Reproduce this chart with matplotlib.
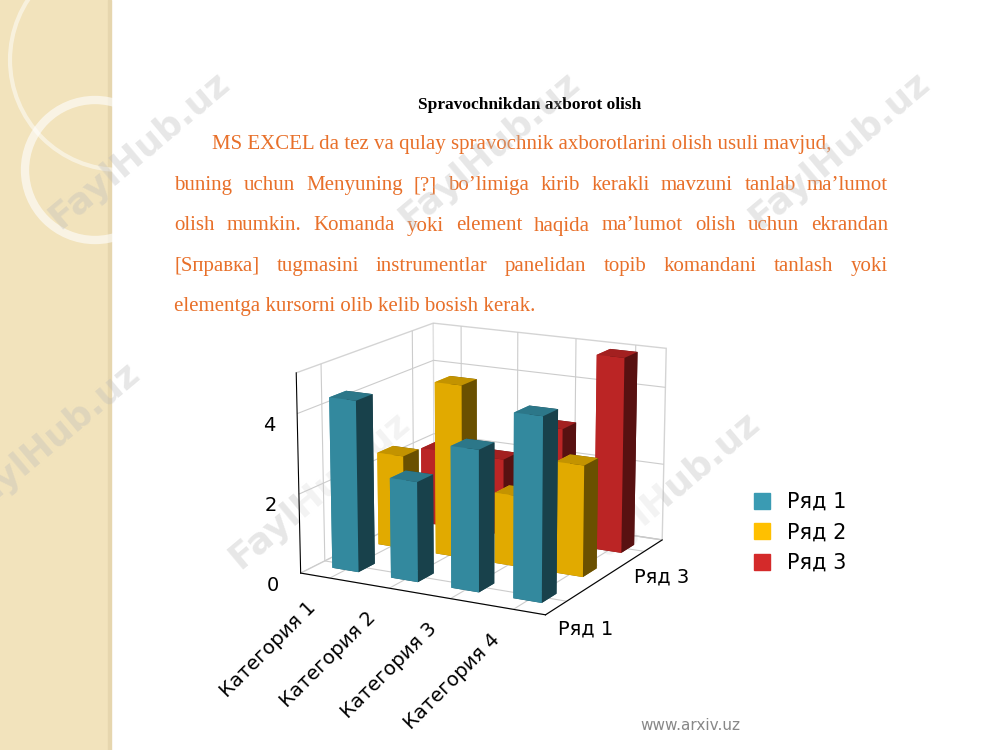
import matplotlib.pyplot as plt
from matplotlib.patches import Rectangle, Circle
import numpy as np

categories = ["Категория 1", "Категория 2", "Категория 3", "Категория 4"]
series_names = ["Ряд 1", "Ряд 2", "Ряд 3"]
ryad1 = [4.3, 2.5, 3.5, 4.5]
ryad2 = [2.4, 4.4, 1.8, 2.8]
ryad3 = [2.0, 2.0, 3.0, 5.0]
colors = ["#3A9BB3", "#FFC000", "#D42A2A"]

lines = [
    "MS EXCEL da tez va qulay spravochnik axborotlarini olish usuli mavjud,",
    "buning uchun Menyuning [?] bo’limiga kirib kerakli mavzuni tanlab ma’lumot",
    "olish mumkin. Komanda yoki element haqida ma’lumot olish uchun ekrandan",
    "[Sправка] tugmasini instrumentlar panelidan topib komandani tanlash yoki",
    "elementga kursorni olib kelib bosish kerak.",
]

fig = plt.figure(figsize=(10, 7.5), dpi=100)
bg = fig.add_axes([0, 0, 1, 1])
bg.set_xlim(0, 1000)
bg.set_ylim(750, 0)
bg.axis("off")
bg.add_patch(Rectangle((0, 0), 110, 750, color="#F2E3BC"))
bg.add_patch(Rectangle((108, 0), 3, 750, color="#E6D6AE"))
bg.add_patch(Circle((95, 170), 70, fill=False, lw=6, ec="#FFFFFF", alpha=0.6))
bg.add_patch(Circle((120, 60), 110, fill=False, lw=3, ec="#FFFFFF", alpha=0.5))

bg.text(530, 105, "Spravochnikdan axborot olish", ha="center", va="center",
        fontsize=12.5, fontweight="bold", family="Liberation Serif")
orange = "#E8702A"
fs = 15
renderer = fig.canvas.get_renderer()
for i, ln in enumerate(lines):
    y = 145 + i * 40.5
    if i == 0:
        bg.text(212, y, ln, ha="left", va="center", fontsize=fs, color=orange, family="Liberation Serif")
    elif i < len(lines) - 1:
        words = ln.split(" ")
        x0, x1 = 174, 888
        ts = [bg.text(0, y, w, ha="left", va="center", fontsize=fs, color=orange,
                      family="Liberation Serif") for w in words]
        ws = [t.get_window_extent(renderer).width for t in ts]
        gap = ((x1 - x0) - sum(ws)) / (len(words) - 1)
        x = x0
        for t, w in zip(ts, ws):
            t.set_x(x)
            x += w + gap
    else:
        bg.text(174, y, ln, ha="left", va="center", fontsize=fs, color=orange, family="Liberation Serif")

for (x, y) in [(140, 150), (490, 150), (840, 150), (50, 440), (320, 490), (670, 490)]:
    bg.text(x, y, "FaylHub.uz", rotation=40, fontsize=26, fontweight="bold",
            color="#BBBBBB", alpha=0.35, ha="center", va="center")
bg.text(690, 725, "www.arxiv.uz", ha="center", va="center", fontsize=11, color="#888888")

ax = fig.add_axes([0.2, 0.1, 0.56, 0.56], projection="3d")
ax.set_facecolor("none")
data = [ryad1, ryad2, ryad3]
dx, dy = 0.45, 0.35
for j in [2, 1, 0]:
    for i in range(4):
        ax.bar3d(i - dx / 2, j - dy / 2, 0, dx, dy, data[j][i], color=colors[j], shade=True)
ax.set_xticks(range(4))
ax.set_xticklabels(categories, rotation=45, ha="right", fontsize=14)
ax.set_yticks([0, 2])
ax.set_yticklabels(["Ряд 1", "Ряд 3"], fontsize=14)
ax.set_zticks([0, 2, 4])
ax.set_zticklabels(["0", "2", "4"], fontsize=14)
ax.set_xlim(-0.5, 3.5)
ax.set_ylim(-0.5, 2.5)
ax.set_zlim(0, 5)
ax.view_init(elev=15, azim=-62)
ax.zaxis._axinfo["juggled"] = (1, 2, 0)
for a in (ax.xaxis, ax.yaxis, ax.zaxis):
    a.pane.set_facecolor((1, 1, 1, 0))
    a.pane.set_edgecolor("#AAAAAA")
    a._axinfo["grid"]["color"] = "#CCCCCC"
    a._axinfo["tick"]["inward_factor"] = 0
    a._axinfo["tick"]["outward_factor"] = 0

handles = [Rectangle((0, 0), 1, 1, color=c) for c in colors]
fig.legend(handles, series_names, loc="center left", bbox_to_anchor=(0.735, 0.29),
           frameon=False, fontsize=15, handlelength=0.8, handleheight=0.8)

fig.savefig("out.png")
